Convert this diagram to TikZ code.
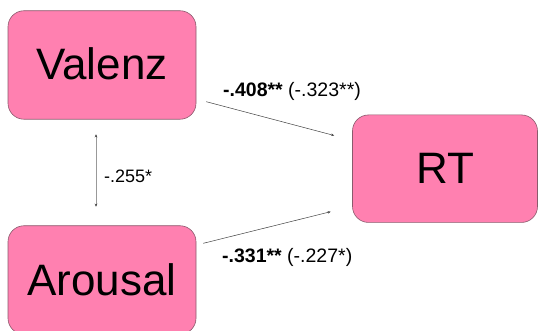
\documentclass[tikz,border=0pt]{standalone}
\usepackage{fontspec}
\setmainfont{Liberation Sans}
\usetikzlibrary{arrows.meta,calc}
\definecolor{boxpink}{HTML}{FF80B0}
\definecolor{boxedge}{HTML}{8A5A6C}
\begin{document}
\begin{tikzpicture}[x=1pt,y=-1pt,
  box/.style={draw=boxedge,line width=0.6pt,fill=boxpink,rounded corners=16pt,
    minimum height=108.5pt,inner sep=0pt,
    font=\fontsize{44}{44}\selectfont},
  conn/.style={draw=black!75,line width=0.5pt,-{Stealth[length=3pt,width=2.5pt]}},
  lab/.style={font=\fontsize{19.5}{20}\selectfont,inner sep=0pt}]
\useasboundingbox (0,0) rectangle (538,331);
\begin{scope}
\clip (0,0) rectangle (538,331);
\node[box,minimum width=188pt] (val) at (102,65) {\raisebox{2.5pt}{Valenz}};
\node[box,minimum width=188pt] (aro) at (102,280) {Arousal};
\node[box,minimum width=185pt,minimum height=107.5pt] (rt) at (445,168.7) {RT};
\end{scope}
\coordinate (v1) at ($(val.east)+(10,36.7)$);
\coordinate (r1) at ($(rt.west)+(-18,-33.2)$);
\coordinate (a1) at ($(aro.east)+(7,-36.7)$);
\coordinate (r2) at ($(rt.west)+(-21.5,43)$);
\coordinate (vb) at ($(val.south)+(-6,14.7)$);
\coordinate (ab) at ($(aro.north)+(-6,-18.7)$);
\draw[conn] (v1) -- (r1);
\draw[conn] (a1) -- (r2);
\draw[draw=black!40,line width=0.8pt,{Stealth[length=3pt,width=2.5pt,black!80]}-{Stealth[length=3pt,width=2.5pt,black!80]}] (vb) -- (ab);
\node[lab,anchor=west] (l1) at (223,91) {\textbf{-.408**} (-.323**)};
\node[lab,anchor=west] (l2) at (222,257) {\textbf{-.331**} (-.227*)};
\node[lab,anchor=west,font=\fontsize{18}{18}\selectfont] (l3) at (104,176.5) {-.255*};
\end{tikzpicture}
\end{document}
